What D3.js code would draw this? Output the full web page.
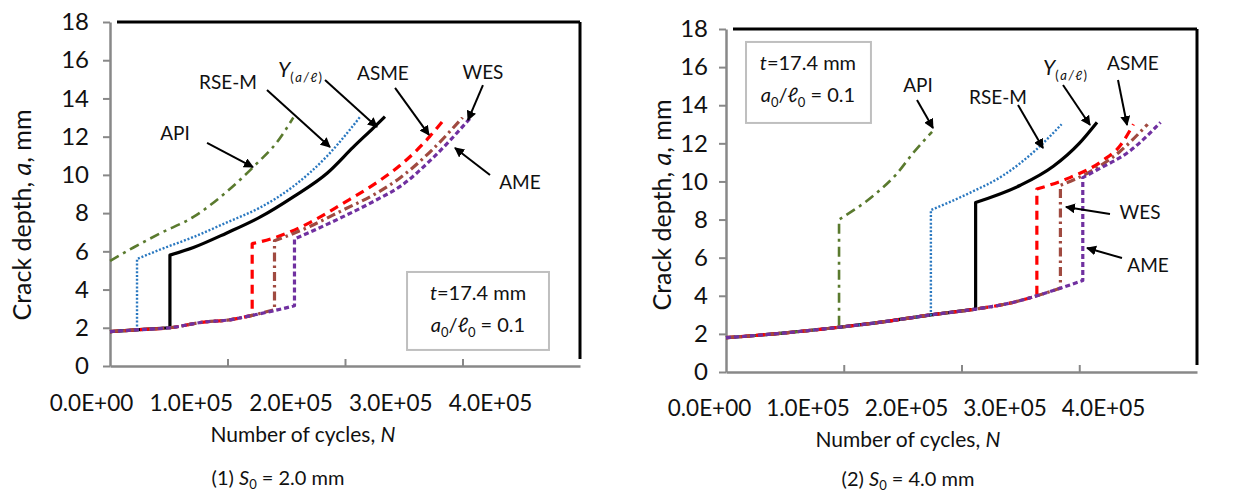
<!DOCTYPE html>
<html>
<head>
<meta charset="utf-8">
<script src="https://cdn.jsdelivr.net/npm/d3@7"></script>
<style>
  html, body { margin: 0; padding: 0; background: #fff; }
  svg { display: block; font-family: Lato, "Open Sans", "Liberation Sans", sans-serif; }
</style>
</head>
<body>
<svg id="chart" width="1254" height="492"></svg>
<script>
// ---------------- DATA ----------------
const yTicks = [0, 2, 4, 6, 8, 10, 12, 14, 16, 18];
const xTicks = [0, 100000, 200000, 300000, 400000];
const xTickLabels = ["0.0E+00", "1.0E+05", "2.0E+05", "3.0E+05", "4.0E+05"];
const methods = ["Y", "RSE-M", "API", "ASME", "WES", "AME"];

// Panel (1) S0 = 2.0 mm : cycles N and crack depth a (mm)
const p1_API_N  = [0, 20000, 43000, 71000, 99000, 125000, 142000, 156000];
const p1_API_a  = [5.5, 6.2, 6.95, 7.8, 9.1, 10.6, 11.7, 13.0];
const p1_RSEM_N = [0, 23000, 23000, 43000, 71000, 99000, 128000, 156000, 185000, 202000, 213000];
const p1_RSEM_a = [1.8, 1.9, 5.6, 6.1, 6.75, 7.5, 8.3, 9.4, 11.0, 12.2, 13.05];
const p1_Y_N    = [0, 25000, 51000, 51000, 71000, 99000, 128000, 156000, 185000, 207000, 224000, 234000];
const p1_Y_a    = [1.8, 1.9, 2.0, 5.8, 6.2, 6.95, 7.8, 8.85, 10.1, 11.45, 12.45, 13.05];
const p1_ASME_N = [0, 25000, 51000, 80000, 100000, 121000, 121000, 142000, 170000, 198000, 227000, 247000, 272000, 283000];
const p1_ASME_a = [1.8, 1.9, 2.0, 2.3, 2.4, 2.65, 6.4, 6.75, 7.5, 8.5, 9.6, 10.5, 12.0, 12.8];
const p1_WES_N  = [0, 25000, 51000, 80000, 100000, 121000, 140000, 140000, 170000, 198000, 227000, 247000, 274000, 300000];
const p1_WES_a  = [1.8, 1.9, 2.0, 2.3, 2.4, 2.65, 2.95, 6.55, 7.3, 8.15, 9.05, 9.85, 11.3, 13.0];
const p1_AME_N  = [0, 25000, 51000, 80000, 100000, 121000, 140000, 157000, 157000, 170000, 198000, 227000, 247000, 275000, 307000];
const p1_AME_a  = [1.8, 1.9, 2.0, 2.3, 2.4, 2.65, 2.9, 3.15, 6.65, 7.0, 7.8, 8.7, 9.4, 10.9, 13.0];

// Panel (2) S0 = 4.0 mm
const p2_API_N  = [0, 50000, 96000, 96000, 128000, 145000, 159000, 175000];
const p2_API_a  = [1.8, 2.05, 2.35, 8.0, 9.4, 10.4, 11.5, 12.6];
const p2_RSEM_N = [0, 50000, 96000, 130000, 174000, 174000, 207000, 235000, 264000, 285000];
const p2_RSEM_a = [1.8, 2.05, 2.35, 2.6, 3.0, 8.5, 9.4, 10.3, 11.7, 13.0];
const p2_Y_N    = [0, 50000, 96000, 130000, 174000, 212000, 212000, 250000, 278000, 300000, 315000];
const p2_Y_a    = [1.8, 2.05, 2.35, 2.6, 3.0, 3.3, 8.9, 9.8, 10.8, 12.0, 13.1];
const p2_ASME_N = [0, 50000, 96000, 130000, 174000, 212000, 240000, 264000, 264000, 292000, 320000, 335000, 346000];
const p2_ASME_a = [1.8, 2.05, 2.35, 2.6, 3.0, 3.3, 3.6, 4.0, 9.6, 10.2, 11.1, 11.9, 13.0];
const p2_WES_N  = [0, 50000, 96000, 130000, 174000, 212000, 240000, 264000, 284000, 284000, 306000, 335000, 358000];
const p2_WES_a  = [1.8, 2.05, 2.35, 2.6, 3.0, 3.3, 3.6, 4.0, 4.4, 9.8, 10.4, 11.6, 13.0];
const p2_AME_N  = [0, 50000, 96000, 130000, 174000, 212000, 240000, 264000, 284000, 303000, 303000, 315000, 343000, 369000];
const p2_AME_a  = [1.8, 2.05, 2.35, 2.6, 3.0, 3.3, 3.6, 4.0, 4.4, 4.8, 10.2, 10.6, 11.6, 13.1];

// ---------------- STYLE ----------------
const styles = {
  "API":   { color: "#5a7a2e", width: 2.6, dash: "10,5,3,5" },
  "RSE-M": { color: "#2a78c0", width: 2.4, dash: "2,1.8" },
  "Y":     { color: "#000000", width: 3.2, dash: null },
  "ASME":  { color: "#ff0000", width: 3.2, dash: "9,6" },
  "WES":   { color: "#a04a40", width: 3.2, dash: "9,4,2.5,4" },
  "AME":   { color: "#7030a0", width: 3.2, dash: "5,3" }
};

const zip = (N, a) => N.map((n, i) => [n, a[i]]);

const panels = [
  {
    box: { x0: 110, x1: 580, yt: 22, yb: 366 },
    labelRange: [91, 490], labelY: 403,
    yLabelPad: 14,
    yTitle: { x: 22, y: 215 },
    xTitle: { x: 303, y: 435 },
    caption: { x: 278, y: 478, num: "(1) ", val: "= 2.0 mm" },
    series: {
      "API": zip(p1_API_N, p1_API_a), "RSE-M": zip(p1_RSEM_N, p1_RSEM_a), "Y": zip(p1_Y_N, p1_Y_a),
      "ASME": zip(p1_ASME_N, p1_ASME_a), "WES": zip(p1_WES_N, p1_WES_a), "AME": zip(p1_AME_N, p1_AME_a)
    },
    infoBox: { n0: 252800, n1: 373600, a0: 4.92, a1: 0.84, tn: 313200, ta1: 3.82, ta2: 2.15 },
    notes: [
      { t: "API",   lab: [55300, 12.19],  from: [82600, 11.67],  to: [121700, 10.41] },
      { t: "RSE-M", lab: [100400, 14.86], from: [133600, 14.44], to: [187200, 11.46] },
      { t: "Y",     lab: [161700, 15.49], from: [183000, 14.97], to: [227200, 12.51] },
      { t: "ASME",  lab: [232300, 15.33], from: [242600, 14.55], to: [271500, 12.09] },
      { t: "WES",   lab: [317400, 15.38], from: [317400, 14.70], to: [304700, 12.87] },
      { t: "AME",   lab: [348900, 9.63],  from: [323400, 9.99],  to: [293600, 11.41] }
    ]
  },
  {
    box: { x0: 726, x1: 1197, yt: 29, yb: 372 },
    labelRange: [709, 1103], labelY: 408,
    yLabelPad: 11,
    yTitle: { x: 662, y: 205 },
    xTitle: { x: 908, y: 440 },
    caption: { x: 908, y: 479, num: "(2) ", val: "= 4.0 mm" },
    series: {
      "API": zip(p2_API_N, p2_API_a), "RSE-M": zip(p2_RSEM_N, p2_RSEM_a), "Y": zip(p2_Y_N, p2_Y_a),
      "ASME": zip(p2_ASME_N, p2_ASME_a), "WES": zip(p2_WES_N, p2_WES_a), "AME": zip(p2_AME_N, p2_AME_a)
    },
    infoBox: { n0: 17000, n1: 123100, a0: 17.32, a1: 13.07, tn: 69600, ta1: 16.22, ta2: 14.54 },
    notes: [
      { t: "API",   lab: [163100, 15.06], from: [162200, 14.27], to: [175800, 12.80] },
      { t: "RSE-M", lab: [231000, 14.43], from: [248000, 14.01], to: [269200, 11.75] },
      { t: "Y",     lab: [287900, 15.95], from: [286200, 15.06], to: [309100, 12.96] },
      { t: "ASME",  lab: [345600, 16.22], from: [332900, 15.32], to: [340600, 12.96] },
      { t: "WES",   lab: [351600, 8.40],  from: [326100, 8.29],  to: [288700, 8.66] },
      { t: "AME",   lab: [358400, 5.61],  from: [336300, 5.98],  to: [306600, 6.51] }
    ]
  }
];

// ---------------- DRAW ----------------
const svg = d3.select("#chart");
const defs = svg.append("defs");
defs.append("marker")
  .attr("id", "arrow").attr("viewBox", "0 0 10 10").attr("refX", 9).attr("refY", 5)
  .attr("markerWidth", 5).attr("markerHeight", 5).attr("orient", "auto")
  .append("path").attr("d", "M0,0 L10,5 L0,10 z").attr("fill", "#000");

const AXIS_GRAY = "#888888";

// split a series at vertical jumps (repeated N), smooth each part, join into one path
function seriesPath(pts, lineGen) {
  const segs = [[pts[0]]];
  for (let i = 1; i < pts.length; i++) {
    if (pts[i][0] === pts[i - 1][0]) segs.push([pts[i]]);
    else segs[segs.length - 1].push(pts[i]);
  }
  return segs.map((s, i) => {
    const d = s.length > 1 ? lineGen(s) : lineGen([s[0], s[0]]);
    return i === 0 ? d : d.replace(/^M/, "L");
  }).join("");
}

panels.forEach(p => {
  const b = p.box;
  const x = d3.scaleLinear().domain([0, 400000]).range([b.x0, b.x1]);
  const y = d3.scaleLinear().domain([0, 18]).range([b.yb, b.yt]);
  const xl = d3.scaleLinear().domain([0, 400000]).range(p.labelRange);
  const g = svg.append("g");

  // frame (top/right black)
  g.append("line").attr("x1", b.x0 + 7).attr("x2", b.x1).attr("y1", b.yt).attr("y2", b.yt)
    .attr("stroke", "#000").attr("stroke-width", 3);
  g.append("line").attr("x1", b.x1).attr("x2", b.x1).attr("y1", b.yt).attr("y2", b.yb - 7)
    .attr("stroke", "#000").attr("stroke-width", 3);

  // y axis
  const ya = g.append("g").attr("transform", `translate(${b.x0},0)`)
    .call(d3.axisLeft(y).tickValues(yTicks).tickSize(7).tickSizeOuter(0).tickPadding(p.yLabelPad).tickFormat(d3.format("d")));
  ya.select(".domain").attr("stroke", AXIS_GRAY).attr("stroke-width", 2.5);
  ya.selectAll(".tick line").attr("stroke", AXIS_GRAY).attr("stroke-width", 2);
  ya.selectAll(".tick text").attr("font-size", 24).attr("fill", "#111").attr("font-family", "Lato, sans-serif");

  // x axis (ticks inward)
  const xa = g.append("g").attr("transform", `translate(0,${b.yb})`)
    .call(d3.axisBottom(x).tickValues(xTicks.slice(1, 4)).tickSizeInner(-7).tickSizeOuter(0).tickFormat(""));
  xa.select(".domain").attr("stroke", AXIS_GRAY).attr("stroke-width", 2.5);
  xa.selectAll(".tick line").attr("stroke", AXIS_GRAY).attr("stroke-width", 2);

  // x tick labels
  const xla = g.append("g").attr("transform", `translate(0,${p.labelY})`)
    .call(d3.axisBottom(xl).tickValues(xTicks).tickSize(0).tickPadding(0).tickFormat((d, i) => xTickLabels[i]));
  xla.select(".domain").remove();
  xla.selectAll(".tick text").attr("y", 0).attr("dy", "0.35em").attr("font-size", 22.5)
    .attr("fill", "#111").attr("font-family", "Lato, sans-serif");

  // series
  const line = d3.line().x(d => x(d[0])).y(d => y(d[1])).curve(d3.curveMonotoneX);
  methods.forEach(m => {
    const s = styles[m];
    g.append("path").attr("d", seriesPath(p.series[m], line))
      .attr("fill", "none").attr("stroke", s.color).attr("stroke-width", s.width)
      .attr("stroke-dasharray", s.dash).attr("stroke-linejoin", "round");
  });

  // info box
  const ib = p.infoBox;
  g.append("rect").attr("x", x(ib.n0)).attr("y", y(ib.a0))
    .attr("width", x(ib.n1) - x(ib.n0)).attr("height", y(ib.a1) - y(ib.a0))
    .attr("fill", "#fff").attr("stroke", "#bfbfbf").attr("stroke-width", 2);
  const t1 = g.append("text").attr("x", x(ib.tn)).attr("y", y(ib.ta1)).attr("dy", "0.35em")
    .attr("text-anchor", "middle").attr("font-size", 20).attr("fill", "#111");
  t1.append("tspan").attr("font-style", "italic").text("t");
  t1.append("tspan").text("=17.4 mm");
  const t2 = g.append("text").attr("x", x(ib.tn)).attr("y", y(ib.ta2)).attr("dy", "0.35em")
    .attr("text-anchor", "middle").attr("font-size", 20).attr("fill", "#111");
  t2.append("tspan").attr("font-style", "italic").text("a");
  t2.append("tspan").attr("font-size", 13).attr("dy", 5).text("0");
  t2.append("tspan").attr("dy", -5).text("/");
  t2.append("tspan").attr("font-style", "italic").text("\u2113");
  t2.append("tspan").attr("font-size", 13).attr("dy", 5).text("0");
  t2.append("tspan").attr("dy", -5).text(" = 0.1");

  // annotations
  p.notes.forEach(n => {
    g.append("line").attr("x1", x(n.from[0])).attr("y1", y(n.from[1]))
      .attr("x2", x(n.to[0])).attr("y2", y(n.to[1]))
      .attr("stroke", "#000").attr("stroke-width", 2).attr("marker-end", "url(#arrow)");
    const tx = g.append("text").attr("x", x(n.lab[0])).attr("y", y(n.lab[1])).attr("dy", "0.35em")
      .attr("text-anchor", "middle").attr("font-size", 19).attr("fill", "#111");
    if (n.t === "Y") {
      tx.append("tspan").attr("font-style", "italic").attr("font-size", 21).text("Y");
      tx.append("tspan").attr("font-size", 13).attr("dy", 5).attr("letter-spacing", 1.5).text("(");
      tx.append("tspan").attr("font-size", 13).attr("font-style", "italic").attr("letter-spacing", 1.5).text("a/\u2113");
      tx.append("tspan").attr("font-size", 13).text(")");
    } else {
      tx.text(n.t);
    }
  });

  // axis titles
  const yt = g.append("text").attr("transform", `translate(${p.yTitle.x},${p.yTitle.y}) rotate(-90)`)
    .attr("text-anchor", "middle").attr("dy", "0.35em").attr("font-size", 25).attr("fill", "#111");
  yt.append("tspan").text("Crack depth, ");
  yt.append("tspan").attr("font-style", "italic").text("a");
  yt.append("tspan").text(", mm");

  const xt = g.append("text").attr("x", p.xTitle.x).attr("y", p.xTitle.y).attr("dy", "0.35em")
    .attr("text-anchor", "middle").attr("font-size", 21).attr("fill", "#111");
  xt.append("tspan").text("Number of cycles, ");
  xt.append("tspan").attr("font-style", "italic").text("N");

  const cp = g.append("text").attr("x", p.caption.x).attr("y", p.caption.y).attr("dy", "0.35em")
    .attr("text-anchor", "middle").attr("font-size", 20).attr("fill", "#111");
  cp.append("tspan").text(p.caption.num);
  cp.append("tspan").attr("font-style", "italic").text("S");
  cp.append("tspan").attr("font-size", 13).attr("dy", 4).text("0");
  cp.append("tspan").attr("dy", -4).text(" " + p.caption.val);
});
</script>
</body>
</html>
